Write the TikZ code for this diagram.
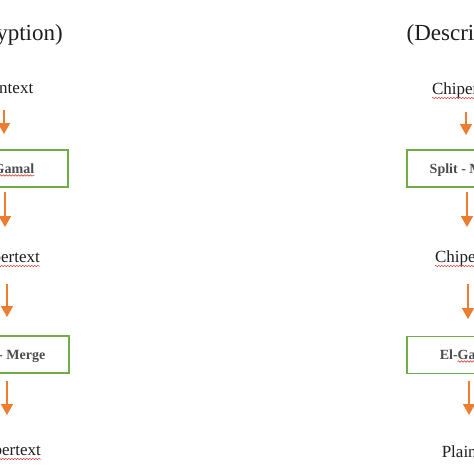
\documentclass[tikz,border=0pt]{standalone}
\usepackage{fontspec}
\setmainfont{Liberation Serif}
\usetikzlibrary{arrows.meta,decorations.pathmorphing}
\definecolor{arrorange}{RGB}{237,125,49}
\definecolor{boxgreen}{RGB}{112,173,71}
\definecolor{txtgray}{RGB}{30,30,30}
\definecolor{squigred}{RGB}{220,40,40}
\begin{document}
\begin{tikzpicture}[x=1pt,y=-1pt,
  title/.style={inner sep=0pt,anchor=base,font=\fontsize{23}{25}\selectfont,text=txtgray},
  word/.style={inner sep=0pt,anchor=base,font=\fontsize{17}{19}\selectfont,text=txtgray},
  stagebox/.style={draw=boxgreen,line width=1.8pt,minimum width=124pt,minimum height=37pt,inner sep=0pt},
  boxtext/.style={inner sep=0pt,anchor=base,font=\fontsize{14}{16}\selectfont\bfseries,text=black!70},
  flow/.style={draw=arrorange,line width=1.4pt,-{Triangle[width=12pt,length=11pt]}},
  squig/.style={draw=squigred,line width=0.5pt,decorate,decoration={snake,segment length=3pt,amplitude=0.7pt}}
]
\useasboundingbox (0,0) rectangle (474,474);
\clip (0,0) rectangle (474,474);
\fill[white] (0,0) rectangle (474,474);

% ---- left column (Encryption)
\node[title] (lt) at (4,40) {(Encryption)};
\node[word] (lp) at (3,93) {Plaintext};
\coordinate (la1s) at (4,110); \coordinate (la1e) at (4,134);
\draw[flow] (la1s) -- (la1e);
\node[stagebox] (lb1) at (6,168.5) {};
\node[boxtext] (lb1t) at (5,173) {El-Gamal};
\node[inner sep=0pt,anchor=base east,font=\fontsize{14}{16}\selectfont\bfseries] (lg) at (lb1t.base east) {\phantom{Gamal}};
\coordinate (la2s) at (5,192); \coordinate (la2e) at (5,227);
\draw[flow] (la2s) -- (la2e);
\node[word] (lc1) at (4,262) {Chipertext};
\coordinate (la3s) at (7,284); \coordinate (la3e) at (7,317);
\draw[flow] (la3s) -- (la3e);
\node[stagebox] (lb2) at (7,354.5) {};
\node[boxtext] (lb2t) at (6,359) {Split - Merge};
\coordinate (la4s) at (7,381); \coordinate (la4e) at (7,415);
\draw[flow] (la4s) -- (la4e);
\node[word] (lc2) at (5,455) {Chipertext};

% ---- right column (Description)
\node[title] (rt) at (468,40) {(Description)};
\node[word] (rc1) at (468,94) {Chipertext};
\coordinate (ra1s) at (466,112); \coordinate (ra1e) at (466,135);
\draw[flow] (ra1s) -- (ra1e);
\node[stagebox] (rb1) at (469,168.5) {};
\node[boxtext] (rb1t) at (469,173) {Split - Merge};
\coordinate (ra2s) at (467,192); \coordinate (ra2e) at (467,227);
\draw[flow] (ra2s) -- (ra2e);
\node[word] (rc2) at (471,262) {Chipertext};
\coordinate (ra3s) at (468,284); \coordinate (ra3e) at (468,319);
\draw[flow] (ra3s) -- (ra3e);
\node[stagebox] (rb2) at (469,355) {};
\node[boxtext] (rb2t) at (469,359) {El-Gamal};
\node[inner sep=0pt,anchor=base east,font=\fontsize{14}{16}\selectfont\bfseries] (rg) at (rb2t.base east) {\phantom{Gamal}};
\coordinate (ra4s) at (469,381); \coordinate (ra4e) at (469,415);
\draw[flow] (ra4s) -- (ra4e);
\node[word] (rp) at (472,457) {Plaintext};

% ---- spell-check squiggles
\draw[squig] ([yshift=-2.5pt]lg.base west) -- ([yshift=-2.5pt]lg.base east);
\draw[squig] ([yshift=-2.5pt]rg.base west) -- ([yshift=-2.5pt]rg.base east);
\draw[squig] ([yshift=-4pt]lc1.base west) -- ([yshift=-4pt]lc1.base east);
\draw[squig] ([yshift=-4pt]lc2.base west) -- ([yshift=-4pt]lc2.base east);
\draw[squig] ([yshift=-4pt]rc1.base west) -- ([yshift=-4pt]rc1.base east);
\draw[squig] ([yshift=-4pt]rc2.base west) -- ([yshift=-4pt]rc2.base east);
\end{tikzpicture}
\end{document}
